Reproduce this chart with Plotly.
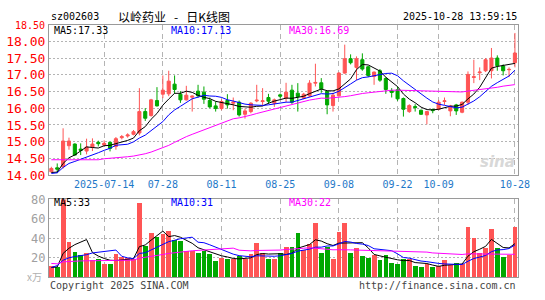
import numpy as np
import pandas as pd
import plotly.graph_objects as go

# ---------------- data ----------------
holidays = ["2025-10-01", "2025-10-02", "2025-10-03", "2025-10-06", "2025-10-07", "2025-10-08"]
dates = [d.strftime("%Y-%m-%d") for d in pd.bdate_range("2025-07-01", "2025-10-28", freq="C", holidays=holidays)]

opens = [14.10, 14.22, 14.25, 14.88, 14.93, 14.78, 14.72, 14.84, 14.98, 14.90,
         14.98, 14.86, 15.12, 15.17, 15.22, 15.26, 15.90, 15.78, 16.23, 16.42,
         16.43, 16.72, 16.42, 16.25, 16.33, 16.51, 16.48, 16.23, 16.07, 15.99,
         16.23, 16.15, 16.18, 15.82, 15.90, 16.22, 16.20, 16.32, 16.15, 16.40,
         16.30, 16.54, 16.45, 16.30, 16.37, 16.75, 16.76, 16.50, 16.08, 16.37,
         17.05, 17.48, 17.22, 17.45, 17.24, 16.95, 17.12, 16.89, 16.52, 16.55,
         16.29, 15.90, 16.05, 15.94, 15.80, 15.96, 15.97, 16.20, 15.92, 16.10,
         15.88, 16.18, 16.92, 17.06, 17.12, 17.12, 17.50, 17.26, 17.15, 17.36]
closes = [14.20, 14.18, 15.02, 15.02, 14.60, 14.74, 14.84, 14.93, 14.94, 14.95,
          14.80, 15.09, 15.15, 15.20, 15.30, 15.90, 15.70, 16.25, 16.07, 16.54,
          16.81, 16.56, 16.25, 16.39, 16.36, 16.37, 16.27, 16.04, 15.99, 16.20,
          16.10, 16.18, 15.80, 15.92, 16.15, 16.24, 16.22, 16.21, 16.25, 16.36,
          16.48, 16.18, 16.35, 16.42, 16.75, 16.77, 16.58, 16.10, 16.39, 17.05,
          17.48, 17.36, 17.48, 17.17, 16.98, 17.08, 16.84, 16.56, 16.47, 16.28,
          15.97, 16.08, 16.02, 15.82, 15.90, 15.93, 16.18, 16.22, 16.07, 15.92,
          16.18, 17.01, 16.94, 17.08, 17.45, 17.50, 17.27, 17.12, 17.16, 17.65]
highs = [14.25, 14.35, 15.40, 15.12, 14.95, 14.95, 15.09, 15.10, 15.03, 15.04,
         15.00, 15.14, 15.20, 15.25, 15.35, 16.60, 16.00, 16.28, 16.63, 16.98,
         17.12, 16.98, 16.51, 16.67, 16.38, 16.70, 16.65, 16.32, 16.20, 16.27,
         16.42, 16.32, 16.23, 15.99, 16.18, 16.70, 16.60, 16.43, 16.29, 16.44,
         16.76, 16.70, 16.75, 16.46, 16.84, 17.33, 16.90, 16.50, 16.46, 17.08,
         17.90, 17.61, 17.55, 17.64, 17.27, 17.10, 17.17, 16.93, 16.60, 16.65,
         16.32, 16.12, 16.12, 15.96, 15.92, 15.99, 16.25, 16.32, 16.10, 16.13,
         16.20, 17.10, 17.45, 17.22, 17.50, 17.80, 17.58, 17.31, 17.22, 18.25]
lows = [14.08, 14.06, 14.20, 14.76, 14.58, 14.60, 14.62, 14.72, 14.86, 14.86,
        14.71, 14.76, 15.07, 15.12, 15.19, 15.19, 15.62, 15.75, 16.05, 16.30,
        16.36, 16.43, 16.16, 16.23, 15.90, 16.32, 16.13, 16.00, 15.90, 15.94,
        15.99, 15.94, 15.75, 15.69, 15.85, 16.18, 16.08, 16.13, 16.04, 16.29,
        16.18, 16.13, 15.90, 16.27, 16.34, 16.65, 16.46, 15.82, 15.90, 16.35,
        17.03, 17.31, 16.84, 17.12, 16.93, 16.70, 16.79, 16.43, 16.32, 16.22,
        15.75, 15.86, 15.90, 15.80, 15.52, 15.85, 15.94, 16.10, 15.76, 15.80,
        15.85, 16.10, 16.75, 16.84, 17.08, 16.89, 17.12, 16.98, 16.93, 17.22]
volumes = [11.4, 10.4, 84.0, 35.8, 26.0, 22.8, 25.0, 17.2, 17.9, 13.7,
           13.7, 23.4, 20.2, 19.5, 18.5, 75.8, 31.9, 44.9, 40.7, 43.9,
           47.2, 37.4, 36.4, 26.7, 26.7, 24.4, 26.7, 23.4, 16.3, 19.5,
           18.5, 18.9, 21.1, 17.9, 23.4, 35.1, 24.4, 18.5, 18.5, 24.4,
           30.9, 30.9, 44.6, 27.6, 34.1, 55.3, 24.4, 30.9, 18.5, 46.2,
           55.3, 25.0, 29.9, 21.1, 19.5, 22.1, 17.2, 22.1, 14.6, 13.7,
           17.9, 17.9, 11.4, 10.4, 13.0, 9.8, 11.4, 16.9, 12.4, 14.6,
           13.0, 51.4, 40.0, 25.0, 29.3, 48.8, 29.3, 20.5, 22.8, 51.4]

# moving-average values at the start of the window (they depend on earlier days)
ma5_head = [14.08, 14.09, 14.35, 14.52]
ma10_head = [14.05, 14.07, 14.23, 14.35, 14.41, 14.47, 14.53, 14.61, 14.67]
ma30_head = [14.46, 14.46, 14.46, 14.46, 14.46, 14.46, 14.46, 14.46, 14.46, 14.49,
             14.50, 14.51, 14.53, 14.55, 14.57, 14.60, 14.64, 14.69, 14.75, 14.81,
             14.89, 14.98, 15.07, 15.15, 15.22, 15.29, 15.36, 15.43, 15.49]
vma5_head = [10.0, 10.6, 24.5, 29.8]
vma10_head = [10.0, 12.0, 17.5, 20.0, 21.3, 22.0, 23.2, 25.0, 25.8]
vma30_head = [14.2, 13.8, 15.8, 16.3, 16.6, 16.8, 16.9, 16.9, 16.9, 16.9,
              16.9, 17.0, 17.1, 17.2, 17.6, 19.6, 20.4, 21.5, 22.4, 23.4,
              24.5, 25.3, 26.1, 26.7, 27.2, 27.6, 28.0, 28.4, 28.8]

price_ticks = [14.0, 14.5, 15.0, 15.5, 16.0, 16.5, 17.0, 17.5, 18.0]
vol_ticks = [20, 40, 60, 80]
date_ticks = ["2025-07-14", "2025-07-28", "2025-08-11", "2025-08-25",
              "2025-09-08", "2025-09-22", "2025-10-09", "2025-10-28"]
date_labels = ["2025-07-14", "07-28", "08-11", "08-25", "09-08", "09-22", "10-09", "10-28"]

code = "sz002603"
title = "以岭药业&nbsp;&nbsp;&nbsp;-&nbsp;&nbsp;&nbsp;日K线图"
stamp = "2025-10-28 13:59:15"
ma_labels = ["MA5:17.33", "MA10:17.13", "MA30:16.69"]
vma_labels = ["MA5:33", "MA10:31", "MA30:22"]


def moving(values, n, head):
    s = pd.Series(values).rolling(n).mean().to_numpy()
    s[:len(head)] = head
    return s


ma5 = moving(closes, 5, ma5_head)
ma10 = moving(closes, 10, ma10_head)
ma30 = moving(closes, 30, ma30_head)
vma5 = moving(volumes, 5, vma5_head)
vma10 = moving(volumes, 10, vma10_head)
vma30 = moving(volumes, 30, vma30_head)

# ---------------- style ----------------
W, H = 545, 300
RED = "#FF5555"
GREEN = "#00A800"
MONO = "DejaVu Sans Mono"
CJK = "Noto Sans CJK SC"
GRID = "#B4B4B4"
BORDER = "#9A9A9A"

fig = go.Figure()
fig.add_trace(go.Candlestick(
    x=dates, open=opens, high=highs, low=lows, close=closes,
    increasing=dict(line=dict(color=RED, width=1), fillcolor=RED),
    decreasing=dict(line=dict(color=GREEN, width=1), fillcolor=GREEN),
    whiskerwidth=0, hoverinfo="skip", xaxis="x", yaxis="y"))
for series, col in [(ma5, "black"), (ma10, "#0000FF"), (ma30, "#FF00FF")]:
    fig.add_trace(go.Scatter(x=dates, y=series, mode="lines", line=dict(color=col, width=1),
                             hoverinfo="skip", xaxis="x", yaxis="y"))

bar_colors = [RED if c >= o else GREEN for o, c in zip(opens, closes)]
fig.add_trace(go.Bar(x=dates, y=volumes, marker=dict(color=bar_colors, line=dict(width=0)),
                     width=0.82, hoverinfo="skip", xaxis="x2", yaxis="y2"))
for series, col in [(vma5, "black"), (vma10, "#0000FF"), (vma30, "#FF00FF")]:
    fig.add_trace(go.Scatter(x=dates, y=series, mode="lines", line=dict(color=col, width=1),
                             hoverinfo="skip", xaxis="x2", yaxis="y2"))

xdom = [50 / W, 529.5 / W]
xr = [-0.42, 79.5]
common_x = dict(type="category", domain=xdom, range=xr, showgrid=True, gridcolor=GRID,
                griddash="5px,4px", gridwidth=1, tickvals=date_ticks, showline=True, mirror=True,
                linecolor=BORDER, linewidth=1, ticks="", zeroline=False, fixedrange=True)

fig.update_layout(
    width=W, height=H, margin=dict(l=0, r=0, t=0, b=0),
    paper_bgcolor="white", plot_bgcolor="white", showlegend=False,
    bargap=0, boxgap=0.25,
    xaxis=dict(common_x, anchor="y", ticktext=date_labels,
               tickfont=dict(family=MONO, size=10, color="#1E78C8"),
               rangeslider=dict(visible=False)),
    xaxis2=dict(common_x, anchor="y2", showticklabels=False, matches="x"),
    yaxis=dict(domain=[1 - 177 / H, 1 - 18.5 / H], range=[14.0, 18.5], tickvals=price_ticks,
               ticktext=[f"{v:.2f}" for v in price_ticks], showgrid=True, gridcolor=GRID,
               griddash="2px,2px", showline=True, mirror=True, linecolor=BORDER, ticks="",
               tickfont=dict(family=MONO, size=13, color="#FF0000"), zeroline=False, fixedrange=True),
    yaxis2=dict(domain=[1 - 284.5 / H, 1 - 202.5 / H], range=[0, 80], tickvals=vol_ticks,
                ticktext=[str(v) for v in vol_ticks], showgrid=True, gridcolor=GRID,
                griddash="2px,2px", showline=True, mirror=True, linecolor=BORDER, ticks="",
                tickfont=dict(family=MONO, size=12, color="#A0A0A0"), zeroline=False, fixedrange=True),
)


def ann(text, x, y, color="black", size=10, xanchor="left", family=MONO, **kw):
    fig.add_annotation(text=text, xref="paper", yref="paper", x=x / W, y=1 - y / H,
                       xanchor=xanchor, yanchor="middle", showarrow=False,
                       font=dict(family=family, size=size, color=color), borderpad=0, **kw)


ann(code, 51, 10.5, size=10)
ann(title, 120, 9.5, size=12, family=CJK)
ann(stamp, 530, 10.5, size=10, xanchor="right")
ann("18.50", 47, 20, color="#FF0000", size=10, xanchor="right")
for txt, x, col in zip(ma_labels, [54, 174, 294], ["black", "#0000FF", "#FF00FF"]):
    ann(txt, x, 25, color=col, size=10)
for txt, x, col in zip(vma_labels, [54, 174, 294], ["black", "#0000FF", "#FF00FF"]):
    ann(txt, x, 206, color=col, size=10)
ann("x万", 44, 284, color="#B0B0B0", size=10, xanchor="right", family=CJK)
ann("Copyright 2025 SINA.COM", 50, 293, color="#444444", size=10)
ann("http://finance.sina.com.cn", 529, 293, color="#444444", size=10, xanchor="right")
ann("<b><i>sina</i></b>", 528, 163, color="#D8D8D8", size=15, xanchor="right", family="DejaVu Sans")

fig.write_html("out.html")
